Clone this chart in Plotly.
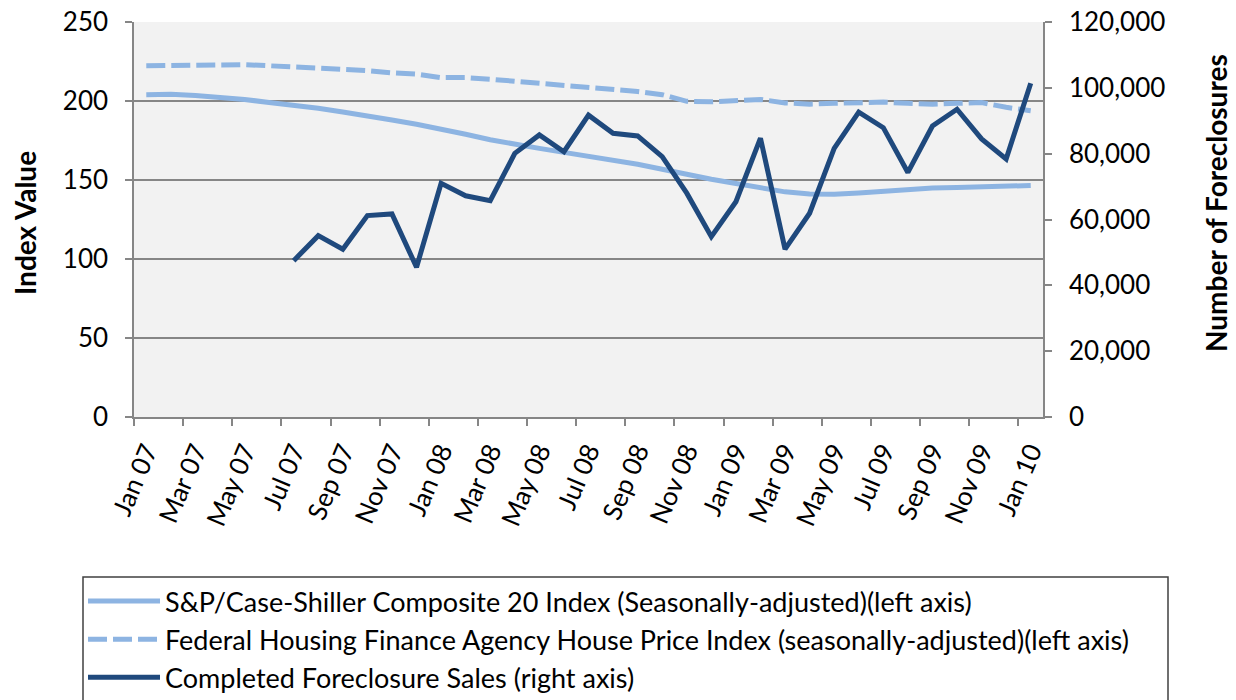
import plotly.graph_objects as go

months = ["Jan 07","Feb 07","Mar 07","Apr 07","May 07","Jun 07","Jul 07","Aug 07","Sep 07","Oct 07","Nov 07","Dec 07",
          "Jan 08","Feb 08","Mar 08","Apr 08","May 08","Jun 08","Jul 08","Aug 08","Sep 08","Oct 08","Nov 08","Dec 08",
          "Jan 09","Feb 09","Mar 09","Apr 09","May 09","Jun 09","Jul 09","Aug 09","Sep 09","Oct 09","Nov 09","Dec 09",
          "Jan 10"]

case_shiller = [204.0,204.2,203.5,202.5,201.0,199.0,197.3,195.4,193.0,190.7,188.0,185.3,
                182.5,179.0,175.5,172.5,170.0,167.5,165.0,163.3,160.0,156.8,153.5,150.5,
                147.8,145.0,142.5,141.2,141.0,141.8,143.0,144.5,145.0,145.3,145.8,146.2,146.5]

fhfa = [222.3,222.5,223.0,223.2,223.0,222.3,221.5,221.0,220.3,219.2,217.8,217.0,
        214.8,214.8,213.8,212.5,211.3,210.3,209.0,207.5,206.0,204.0,199.8,199.5,
        200.5,201.0,198.8,198.0,198.5,199.0,199.3,198.5,198.0,198.5,199.0,196.0,193.8]

foreclosures = [None,None,None,None,None,None,47500,55100,51000,61200,61700,45500,
                71000,67200,65700,80100,85700,80600,91700,86200,85400,79100,68000,54800,
                65400,84700,51000,61900,81600,92600,87900,74300,88400,93500,84500,78400,101400]

left_ticks = [0, 50, 100, 150, 200, 250]
right_ticks = [0, 20000, 40000, 60000, 80000, 100000, 120000]

names = ["S&P/Case-Shiller Composite 20 Index (Seasonally-adjusted)(left axis)",
         "Federal Housing Finance Agency House Price Index (seasonally-adjusted)(left axis)",
         "Completed Foreclosure Sales (right axis)"]

LIGHT = "#8DB4E2"
DARK = "#1F497D"
GRID = "#868686"
FONT = "Lato"

idx = list(range(len(months)))
label_idx = idx[::2]
label_txt = [months[i] for i in label_idx]
boundary_ticks = [i - 0.5 for i in label_idx if i - 0.5 < len(months) - 1]

PW = 909.0
PH = 395.0
def px_x(p):
    return (p - 134) / PW
def px_y(p):
    return (417 - p) / PH

fig = go.Figure()
fig.add_trace(go.Scatter(x=idx, y=case_shiller, name=names[0], mode="lines",
                         line=dict(color=LIGHT, width=5)))
fig.add_trace(go.Scatter(x=idx, y=fhfa, name=names[1], mode="lines",
                         line=dict(color=LIGHT, width=5, dash="19px,6px")))
fig.add_trace(go.Scatter(x=idx, y=foreclosures, name=names[2], mode="lines", yaxis="y2",
                         line=dict(color=DARK, width=5)))

fig.update_layout(
    width=1236, height=700,
    margin=dict(l=134, r=193, t=22, b=283, autoexpand=False),
    paper_bgcolor="white",
    plot_bgcolor="#F2F2F2",
    font=dict(family=FONT, size=26, color="black"),
    showlegend=True,
    xaxis=dict(
        range=[-0.5, len(months) - 0.5], automargin=False,
        tickmode="array", tickvals=label_idx, ticktext=label_txt,
        tickangle=-67, ticks="outside", ticklen=7, tickcolor="rgba(0,0,0,0)",
        showgrid=False, zeroline=False,
        showline=True, linecolor=GRID, linewidth=1.5,
        minor=dict(tickmode="array", tickvals=boundary_ticks, ticks="outside",
                   ticklen=7, tickcolor=GRID, tickwidth=1.5, showgrid=False),
        tickfont=dict(size=26),
    ),
    yaxis=dict(
        range=[0, 250], tickmode="array", tickvals=left_ticks, automargin=False,
        ticks="outside", ticklen=7, tickcolor=GRID, tickwidth=1.5,
        showgrid=True, gridcolor=GRID, gridwidth=1.5,
        zeroline=False, showline=True, linecolor=GRID, linewidth=1.5,
        ticklabelstandoff=12, tickfont=dict(size=26),
    ),
    yaxis2=dict(
        range=[0, 120000], tickmode="array", tickvals=right_ticks, automargin=False,
        tickformat=",", overlaying="y", side="right",
        ticks="outside", ticklen=7, tickcolor=GRID, tickwidth=1.5,
        showgrid=False, zeroline=False, showline=True, linecolor=GRID, linewidth=1.5,
        ticklabelstandoff=12, tickfont=dict(size=26),
    ),
    legend=dict(
        x=px_x(83), y=px_y(577), xanchor="left", yanchor="top",
        bgcolor="rgba(0,0,0,0)", borderwidth=0,
        font=dict(size=27), itemwidth=72, tracegroupgap=0,
    ),
    shapes=[
        dict(type="rect", xref="paper", yref="paper",
             x0=px_x(83), x1=px_x(1168), y0=px_y(577), y1=px_y(720),
             line=dict(color="#404040", width=1.5), fillcolor="white", layer="below"),
    ],
    annotations=[
        dict(text="<b>Index Value</b>", x=px_x(25), y=px_y(223),
             xref="paper", yref="paper", textangle=-90, showarrow=False,
             xanchor="center", yanchor="middle", font=dict(size=28)),
        dict(text="<b>Number of Foreclosures</b>", x=px_x(1216), y=px_y(203),
             xref="paper", yref="paper", textangle=-90, showarrow=False,
             xanchor="center", yanchor="middle", font=dict(size=28)),
    ],
)

fig.write_html("out.html", config={"displayModeBar": False},
               post_script="document.body.style.margin='0';")
